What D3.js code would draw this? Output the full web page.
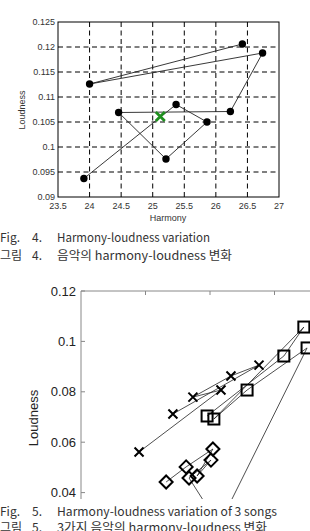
<!DOCTYPE html>
<meta charset="utf-8">
<style>
    body { margin: 0; background: #fff; }
    svg { display: block; }
    .tick4 { font-family: "Liberation Sans", Arial, sans-serif; font-size: 9px; fill: #333; }
    .tick5 { font-family: "Liberation Sans", Arial, sans-serif; font-size: 13px; fill: #222; }
    .cap { font-family: "Noto Sans CJK KR", sans-serif; font-size: 12px; fill: #333; }
</style>
<svg width="310" height="531"></svg>
<script src="https://d3js.org/d3.v7.min.js"></script>
<script>
    // Fig. 4 : one song, path of (harmony, loudness) points
    var harmony4 = [26.42, 24.0, 26.74, 26.23, 24.46, 25.21, 25.86, 25.37, 23.91];
    var loudness4 = [0.1206, 0.1126, 0.1188, 0.1071, 0.1069, 0.0976, 0.105, 0.1085, 0.0937];
    var centre4 = [25.12, 0.1061]; // green cross
    var xTicks4 = [23.5, 24, 24.5, 25, 25.5, 26, 26.5, 27];
    var yTicks4 = [0.09, 0.095, 0.1, 0.105, 0.11, 0.115, 0.12, 0.125];

    // Fig. 5 : three songs (x, square, diamond markers)
    var crossHarmony = [22.85, 25.52, 24.65, 23.47, 24.34, 21.80];
    var crossLoudness = [0.0712, 0.0906, 0.0863, 0.0779, 0.0807, 0.0561];
    var squareHarmony = [23.91, 26.29, 26.91, 24.12, 25.15, 27.01, 24.28];
    var squareLoudness = [0.0704, 0.0942, 0.1057, 0.0692, 0.0807, 0.0974, 0.0271];
    var diamondHarmony = [24.28, 23.35, 24.03, 23.60, 24.09, 23.26, 22.64];
    var diamondLoudness = [0.0271, 0.0458, 0.0529, 0.0466, 0.0573, 0.0502, 0.0442];
    var xTicks5 = [20, 22, 24, 26, 28, 30];
    var yTicks5 = [0.04, 0.06, 0.08, 0.1, 0.12];

    var svg = d3.select('svg');

    // ---------- Fig. 4 ----------
    var x4 = d3.scaleLinear().domain([23.5, 27]).range([58, 279]),
        y4 = d3.scaleLinear().domain([0.09, 0.125]).range([197, 22]);

    var g4 = svg.append('g');

    // dashed grid
    g4.selectAll('.vg').data(xTicks4.slice(1, -1)).enter().append('line')
        .attr('x1', d => x4(d)).attr('x2', d => x4(d))
        .attr('y1', y4(0.09)).attr('y2', y4(0.125))
        .attr('stroke', '#000').attr('stroke-width', 1).attr('stroke-dasharray', '5,3.5');
    g4.selectAll('.hg').data(yTicks4.slice(1, -1)).enter().append('line')
        .attr('y1', d => y4(d)).attr('y2', d => y4(d))
        .attr('x1', x4(23.5)).attr('x2', x4(27))
        .attr('stroke', '#000').attr('stroke-width', 1).attr('stroke-dasharray', '5,3.5');

    g4.append('rect')
        .attr('x', x4(23.5)).attr('y', y4(0.125))
        .attr('width', x4(27) - x4(23.5)).attr('height', y4(0.09) - y4(0.125))
        .attr('fill', 'none').attr('stroke', '#000').attr('stroke-width', 1);

    g4.selectAll('.yl').data(yTicks4).enter().append('text')
        .attr('class', 'tick4')
        .attr('x', 55).attr('y', d => y4(d)).attr('dy', '0.35em')
        .attr('text-anchor', 'end')
        .text(d => String(d));
    g4.selectAll('.xl').data(xTicks4).enter().append('text')
        .attr('class', 'tick4')
        .attr('x', d => x4(d)).attr('y', 208.5)
        .attr('text-anchor', 'middle')
        .text(d => String(d));
    g4.append('text').attr('class', 'tick4')
        .attr('x', 168).attr('y', 221).attr('text-anchor', 'middle')
        .text('Harmony');
    g4.append('text').attr('class', 'tick4')
        .attr('transform', 'translate(25,110) rotate(-90)')
        .attr('text-anchor', 'middle')
        .text('Loudness');

    var pts4 = harmony4.map((h, i) => [h, loudness4[i]]);
    g4.append('path')
        .attr('d', d3.line().x(d => x4(d[0])).y(d => y4(d[1]))(pts4))
        .attr('fill', 'none').attr('stroke', '#222').attr('stroke-width', 0.9);
    g4.selectAll('.dot').data(pts4).enter().append('circle')
        .attr('cx', d => x4(d[0])).attr('cy', d => y4(d[1]))
        .attr('r', 3.7).attr('fill', '#000');

    var cx = x4(centre4[0]), cy = y4(centre4[1]), s = 4.5;
    g4.append('path')
        .attr('d', 'M' + (cx - s) + ',' + (cy - s) + 'L' + (cx + s) + ',' + (cy + s) +
                   'M' + (cx - s) + ',' + (cy + s) + 'L' + (cx + s) + ',' + (cy - s))
        .attr('stroke', '#1f8f1f').attr('stroke-width', 2.8).attr('fill', 'none');

    // caption Fig. 4
    var cap4 = svg.append('g').attr('class', 'cap');
    cap4.append('text').attr('x', 0).attr('y', 241.5).text('Fig.');
    cap4.append('text').attr('x', 32).attr('y', 241.5).text('4.');
    cap4.append('text').attr('x', 57).attr('y', 241.5)
        .attr('textLength', 153).attr('lengthAdjust', 'spacingAndGlyphs')
        .text('Harmony-loudness variation');
    cap4.append('text').attr('x', 0).attr('y', 260).text('그림');
    cap4.append('text').attr('x', 32).attr('y', 260).text('4.');
    cap4.append('text').attr('x', 57).attr('y', 260)
        .attr('textLength', 175).attr('lengthAdjust', 'spacingAndGlyphs')
        .text('음악의 harmony-loudness 변화');

    // ---------- Fig. 5 ----------
    var x5 = d3.scaleLinear().domain([20, 30]).range([81, 403.5]),
        y5 = d3.scaleLinear().domain([0.04, 0.12]).range([492.6, 291]);

    svg.append('clipPath').attr('id', 'clip5')
        .append('rect').attr('x', 0).attr('y', 0).attr('width', 310).attr('height', 499);

    var g5 = svg.append('g').attr('clip-path', 'url(#clip5)');

    // frame: top and left edges, ticks inside
    g5.append('line').attr('x1', x5(20)).attr('x2', 320).attr('y1', y5(0.12)).attr('y2', y5(0.12))
        .attr('stroke', '#888').attr('stroke-width', 1);
    g5.append('line').attr('x1', x5(20)).attr('x2', x5(20)).attr('y1', y5(0.12)).attr('y2', 520)
        .attr('stroke', '#888').attr('stroke-width', 1);
    g5.selectAll('.xt').data(xTicks5.slice(1)).enter().append('line')
        .attr('x1', d => x5(d)).attr('x2', d => x5(d))
        .attr('y1', y5(0.12)).attr('y2', y5(0.12) + 4)
        .attr('stroke', '#888');
    g5.selectAll('.yt').data(yTicks5).enter().append('line')
        .attr('x1', x5(20)).attr('x2', x5(20) + 4)
        .attr('y1', d => y5(d)).attr('y2', d => y5(d))
        .attr('stroke', '#888');
    g5.selectAll('.yl').data(yTicks5).enter().append('text')
        .attr('class', 'tick5')
        .attr('x', 76).attr('y', d => y5(d)).attr('dy', '0.35em')
        .attr('text-anchor', 'end')
        .text(d => String(d));
    g5.append('text').attr('class', 'tick5')
        .attr('transform', 'translate(38,418) rotate(-90)')
        .attr('text-anchor', 'middle')
        .text('Loudness');

    var line5 = d3.line().x(d => x5(d[0])).y(d => y5(d[1]));
    var crossPts = crossHarmony.map((h, i) => [h, crossLoudness[i]]),
        squarePts = squareHarmony.map((h, i) => [h, squareLoudness[i]]),
        diamondPts = diamondHarmony.map((h, i) => [h, diamondLoudness[i]]);

    [crossPts, squarePts, diamondPts].forEach(function (pts) {
        g5.append('path').attr('d', line5(pts))
            .attr('fill', 'none').attr('stroke', '#222').attr('stroke-width', 0.8);
    });

    g5.selectAll('.cross').data(crossPts).enter().append('path')
        .attr('d', function (d) {
            var px = x5(d[0]), py = y5(d[1]), r = 4.5;
            return 'M' + (px - r) + ',' + (py - r) + 'L' + (px + r) + ',' + (py + r) +
                   'M' + (px - r) + ',' + (py + r) + 'L' + (px + r) + ',' + (py - r);
        })
        .attr('stroke', '#000').attr('stroke-width', 2).attr('fill', 'none');
    g5.selectAll('.square').data(squarePts).enter().append('rect')
        .attr('x', d => x5(d[0]) - 5.5).attr('y', d => y5(d[1]) - 5.5)
        .attr('width', 11).attr('height', 11)
        .attr('stroke', '#000').attr('stroke-width', 2).attr('fill', 'none');
    g5.selectAll('.diamond').data(diamondPts).enter().append('path')
        .attr('d', function (d) {
            var px = x5(d[0]), py = y5(d[1]), r = 6.5;
            return 'M' + px + ',' + (py - r) + 'L' + (px + r) + ',' + py +
                   'L' + px + ',' + (py + r) + 'L' + (px - r) + ',' + py + 'Z';
        })
        .attr('stroke', '#000').attr('stroke-width', 2).attr('fill', 'none');

    // caption Fig. 5
    var cap5 = svg.append('g').attr('class', 'cap');
    cap5.append('text').attr('x', 0).attr('y', 516).text('Fig.');
    cap5.append('text').attr('x', 32).attr('y', 516).text('5.');
    cap5.append('text').attr('x', 57).attr('y', 516)
        .attr('textLength', 220).attr('lengthAdjust', 'spacingAndGlyphs')
        .text('Harmony-loudness variation of 3 songs');
    cap5.append('text').attr('x', 0).attr('y', 532).text('그림');
    cap5.append('text').attr('x', 32).attr('y', 532).text('5.');
    cap5.append('text').attr('x', 57).attr('y', 532)
        .attr('textLength', 210).attr('lengthAdjust', 'spacingAndGlyphs')
        .text('3가지 음악의 harmony-loudness 변화');
</script>
